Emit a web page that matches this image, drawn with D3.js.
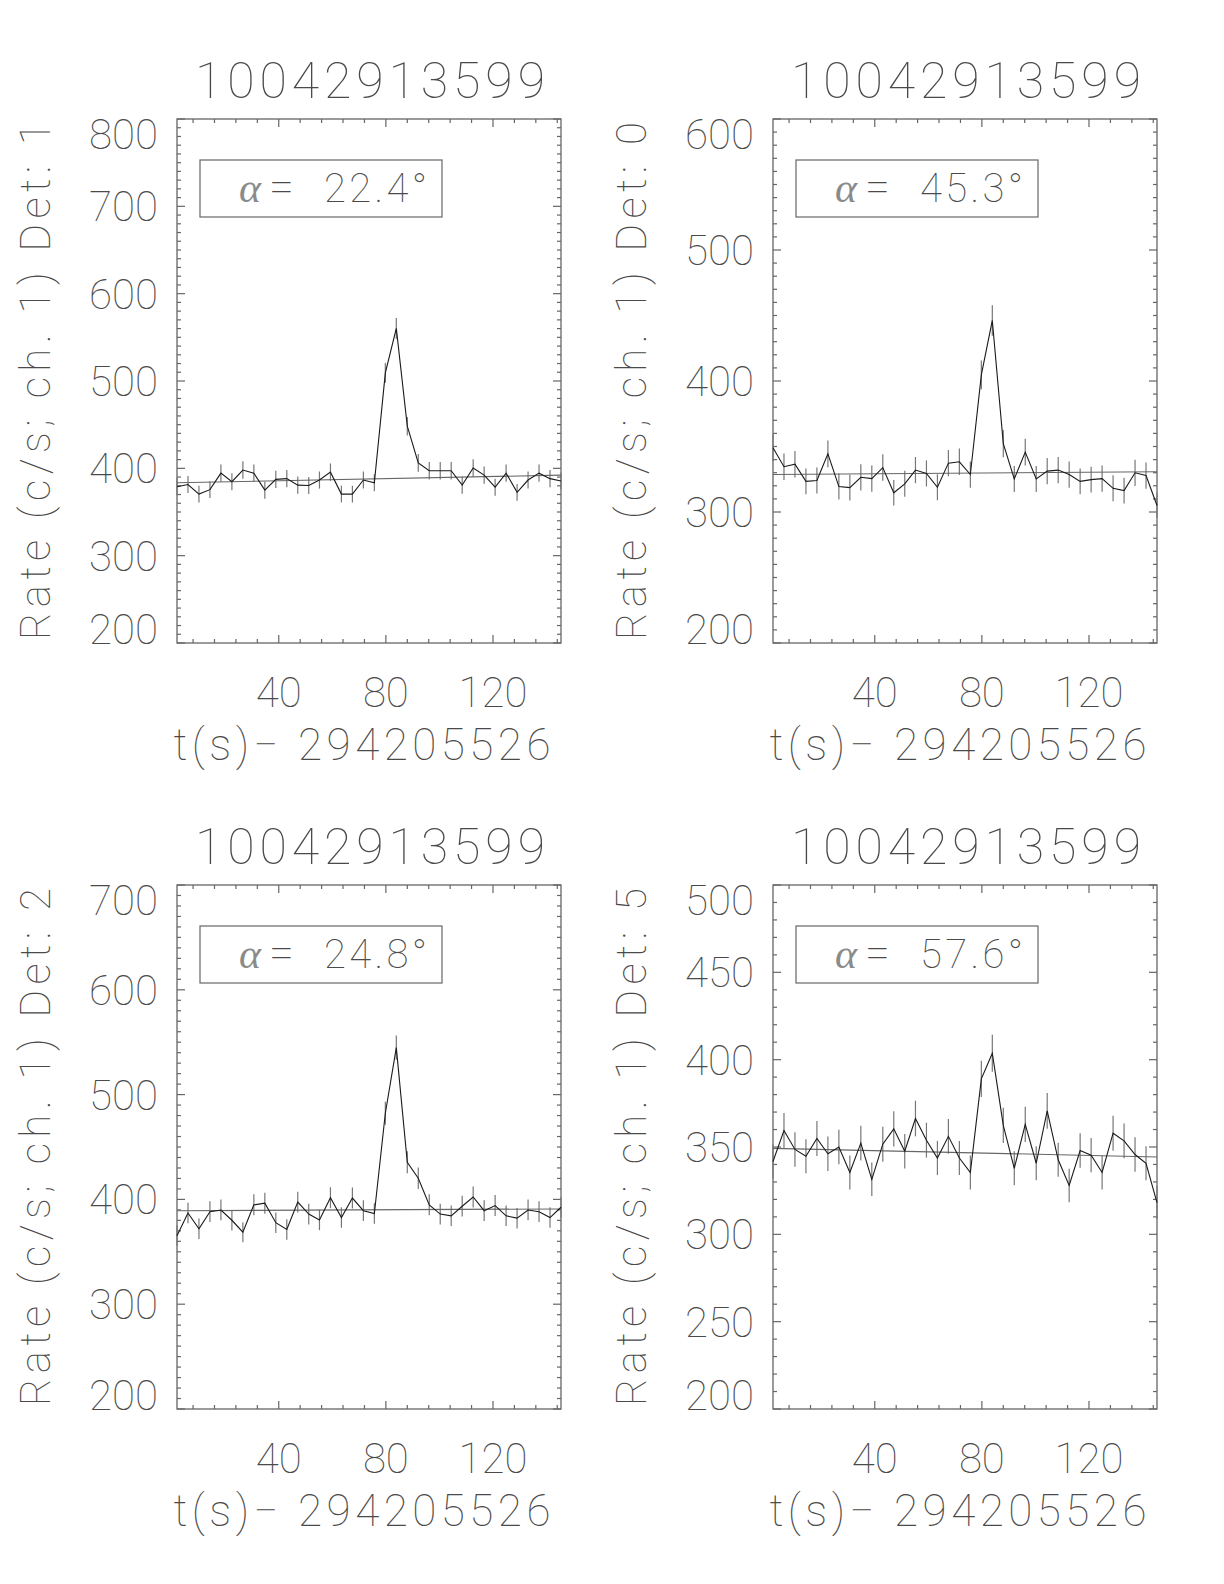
<!DOCTYPE html>
<html lang="en">
<head>
  <meta charset="UTF-8">
  <title>Light curves – 10042913599</title>
  <script src="https://d3js.org/d3.v7.min.js"></script>
  <style>
    body { margin: 0; background: #fff; }
    svg text {
      font-family: "Roboto", "Lato", "DejaVu Sans", sans-serif;
      font-weight: 100;
      fill: #4a4a4a;
    }
    svg text.greek {
      font-family: "Liberation Serif", "DejaVu Serif", serif;
      font-style: italic;
      font-weight: 400;
      fill: #8a8a8a;
    }
  </style>
</head>
<body>
  <svg id="chart" width="1224" height="1584"></svg>
  <script>
    // Data
    const obsId = "10042913599";
    const tRef = "294205526";
    const times = [2.0, 6.1, 10.2, 14.3, 18.4, 22.5, 26.6, 30.7, 34.8, 38.9, 43.0, 47.1,
      51.2, 55.2, 59.3, 63.4, 67.5, 71.6, 75.7, 79.8, 83.9, 88.0, 92.1, 96.2,
      100.3, 104.4, 108.5, 112.6, 116.7, 120.8, 124.9, 129.0, 133.1, 137.2, 141.3, 145.4];

    const det1Rate = [379, 381.5, 370.5, 375.6, 394.5, 384.7, 398, 394.5, 375, 387.4, 388.2, 380.8,
      380.4, 386.6, 395.6, 370.5, 370.5, 386.6, 383.5, 509.2, 560.3, 448.3, 406.3, 397.2,
      397.2, 397.2, 380.8, 400.4, 392.2, 378.4, 394.5, 372.5, 386.6, 394.5, 388.2, 385.5];
    const det1Err = [9.8, 9.8, 9.6, 9.7, 10.0, 9.8, 10.0, 9.9, 9.7, 9.9, 9.9, 9.8,
      9.8, 9.8, 10.0, 9.6, 9.6, 9.8, 9.8, 11.3, 11.8, 10.6, 10.1, 10.0,
      10.0, 10.0, 9.8, 10.0, 9.9, 9.7, 9.9, 9.7, 9.8, 10.0, 9.9, 9.8];

    const det0Rate = [349.1, 334.6, 336.5, 323.4, 324.1, 344.4, 319.4, 318.6, 326.5, 325.5, 333.9, 314.7,
      321.5, 332, 329.4, 318.9, 337.3, 338.3, 328.6, 404.7, 446.2, 352.2, 325.2, 345.7,
      325.2, 331.2, 332, 328.6, 323.4, 324.7, 325.5, 318.1, 316.3, 329.9, 327.8, 305];
    const det0Err = [10.3, 10.1, 10.1, 9.9, 9.9, 10.2, 9.9, 9.9, 10.0, 10.0, 10.1, 9.8,
      9.9, 10.0, 10.0, 9.9, 10.1, 10.1, 10.0, 11.0, 11.6, 10.4, 10.0, 10.2,
      10.0, 10.0, 10.0, 10.0, 9.9, 9.9, 10.0, 9.9, 9.8, 10.0, 10.0, 9.6];

    const det2Rate = [365.4, 387, 372, 388.3, 389.9, 380.1, 368.7, 394.8, 396.4, 377.8, 371.3, 397.4,
      386, 380.4, 401.6, 382.7, 401.3, 389.2, 386.6, 482.2, 544.8, 435.5, 420.2, 394.8,
      386, 384.3, 393.5, 402.3, 389.2, 394.1, 384.3, 382.1, 389.9, 388.3, 382.7, 392.5];
    const det2Err = [9.6, 9.8, 9.7, 9.9, 9.9, 9.8, 9.6, 10.0, 10.0, 9.8, 9.7, 10.0,
      9.9, 9.8, 10.0, 9.8, 10.0, 9.9, 9.8, 10.9, 11.6, 10.5, 10.3, 10.0,
      9.9, 9.8, 9.9, 10.0, 9.9, 10.0, 9.8, 9.8, 9.9, 9.9, 9.8, 9.9];

    const det5Rate = [341.7, 359.4, 348.6, 344.7, 354.9, 346.1, 350, 335.4, 352.2, 331.5, 351.6, 360.4,
      347.6, 366.3, 353.9, 343.7, 356.1, 343.7, 335.4, 389, 403.7, 362.4, 337.8, 363,
      340.7, 370.7, 342.7, 328, 348, 345.3, 335.4, 357.9, 353.5, 345.7, 340.7, 318.1];
    const det5Err = [9.7, 10.0, 9.9, 9.8, 10.0, 9.9, 9.9, 9.7, 10.0, 9.6, 10.0, 10.1,
      9.9, 10.2, 10.0, 9.8, 10.0, 9.8, 9.7, 10.4, 10.6, 10.1, 9.7, 10.1,
      9.8, 10.2, 9.8, 9.6, 9.9, 9.8, 9.7, 10.0, 10.0, 9.9, 9.8, 9.5];

    const panelDets = [1, 0, 2, 5];
    const panelAlpha = ["22.4", "45.3", "24.8", "57.6"];
    const panelRates = [det1Rate, det0Rate, det2Rate, det5Rate];
    const panelErrs = [det1Err, det0Err, det2Err, det5Err];
    const yDomains = [[200, 800], [200, 600], [200, 700], [200, 500]];
    const yMajorSteps = [100, 100, 100, 50];
    const fitEnds = [[383.5, 392.2], [328.6, 330.7], [389.2, 390.9], [349.2, 344.3]];
    const xTickValues = [40, 80, 120];

    // Layout
    const frameW = 384, frameH = 524;
    const frameLefts = [177, 773];
    const frameTops = [119, 885];
    const svg = d3.select("#chart");

    panelDets.forEach((det, k) => {
      const left = frameLefts[k % 2];
      const top = frameTops[Math.floor(k / 2)];
      const right = left + frameW, bottom = top + frameH;

      const x = d3.scaleLinear().domain([times[0], times[times.length - 1]]).range([left, right]);
      const y = d3.scaleLinear().domain(yDomains[k]).range([bottom, top]);
      const g = svg.append("g");

      // frame
      g.append("rect")
        .attr("x", left).attr("y", top).attr("width", frameW).attr("height", frameH)
        .attr("fill", "none").attr("stroke", "#666").attr("stroke-width", 1.3);

      // x ticks (top and bottom, inward)
      d3.range(8, x.domain()[1], 8).forEach(v => {
        const len = xTickValues.includes(v) ? 8 : 4;
        const px = x(v);
        g.append("line").attr("x1", px).attr("x2", px).attr("y1", bottom).attr("y2", bottom - len)
          .attr("stroke", "#666").attr("stroke-width", 1.2);
        g.append("line").attr("x1", px).attr("x2", px).attr("y1", top).attr("y2", top + len)
          .attr("stroke", "#666").attr("stroke-width", 1.2);
      });

      // y ticks (left and right, inward)
      const [y0, y1] = yDomains[k];
      const step = yMajorSteps[k];
      d3.range(y0, y1 + 0.001, 10).forEach(v => {
        const isMajor = Math.abs((v - y0) % step) < 0.001;
        const len = isMajor ? 8 : 4;
        const py = y(v);
        g.append("line").attr("x1", left).attr("x2", left + len).attr("y1", py).attr("y2", py)
          .attr("stroke", "#666").attr("stroke-width", 1.2);
        g.append("line").attr("x1", right).attr("x2", right - len).attr("y1", py).attr("y2", py)
          .attr("stroke", "#666").attr("stroke-width", 1.2);
      });

      // y tick labels (end labels pulled inside the frame, IDL style)
      d3.range(y0, y1 + 0.001, step).forEach(v => {
        const cy = Math.min(Math.max(y(v), top + 15), bottom - 14);
        g.append("text")
          .attr("x", left - 19).attr("y", cy + 15)
          .attr("text-anchor", "end").attr("font-size", 42)
          .text(v);
      });

      // x tick labels
      xTickValues.forEach(v => {
        g.append("text")
          .attr("x", x(v)).attr("y", bottom + 64)
          .attr("text-anchor", "middle").attr("font-size", 42)
          .text(v);
      });

      // titles
      g.append("text")
        .attr("x", left + frameW / 2 + 1).attr("y", top - 21)
        .attr("text-anchor", "middle").attr("font-size", 50)
        .attr("textLength", 350).attr("lengthAdjust", "spacing")
        .text(obsId);

      g.append("text")
        .attr("x", left + frameW / 2 - 7).attr("y", bottom + 117)
        .attr("text-anchor", "middle").attr("font-size", 44)
        .attr("textLength", 377).attr("lengthAdjust", "spacing")
        .text("t(s)\u2212 " + tRef);

      g.append("text")
        .attr("transform", `translate(${left - 127},${top + frameH / 2}) rotate(-90)`)
        .attr("text-anchor", "middle").attr("font-size", 42)
        .attr("textLength", 518).attr("lengthAdjust", "spacing")
        .text(`Rate (c/s; ch. 1) Det: ${det}`);

      // alpha box
      g.append("rect")
        .attr("x", left + 23).attr("y", top + 41).attr("width", 242).attr("height", 57)
        .attr("fill", "none").attr("stroke", "#666").attr("stroke-width", 1.2);
      g.append("text")
        .attr("class", "greek")
        .attr("x", left + 62).attr("y", top + 83)
        .attr("font-size", 42)
        .text("\u03b1");
      g.append("text")
        .attr("x", left + 92).attr("y", top + 83)
        .attr("font-size", 44)
        .attr("textLength", 25).attr("lengthAdjust", "spacingAndGlyphs")
        .text("=");
      g.append("text")
        .attr("x", left + 147).attr("y", top + 83)
        .attr("font-size", 40)
        .attr("textLength", 103).attr("lengthAdjust", "spacing")
        .text(`${panelAlpha[k]}\u00b0`);

      // data
      const rates = panelRates[k], errs = panelErrs[k];
      const pts = times.map((t, i) => ({ t, r: rates[i], e: errs[i] }));

      g.append("g").selectAll("line")
        .data(pts)
        .join("line")
          .attr("x1", d => x(d.t)).attr("x2", d => x(d.t))
          .attr("y1", d => y(d.r - d.e)).attr("y2", d => y(d.r + d.e))
          .attr("stroke", "#777").attr("stroke-width", 1.2);

      g.append("line")
        .attr("x1", x(times[0])).attr("x2", x(times[times.length - 1]))
        .attr("y1", y(fitEnds[k][0])).attr("y2", y(fitEnds[k][1]))
        .attr("stroke", "#666").attr("stroke-width", 1.1);

      g.append("path")
        .datum(pts)
        .attr("fill", "none").attr("stroke", "#1a1a1a").attr("stroke-width", 1.1)
        .attr("d", d3.line().x(d => x(d.t)).y(d => y(d.r)));
    });
  </script>
</body>
</html>
